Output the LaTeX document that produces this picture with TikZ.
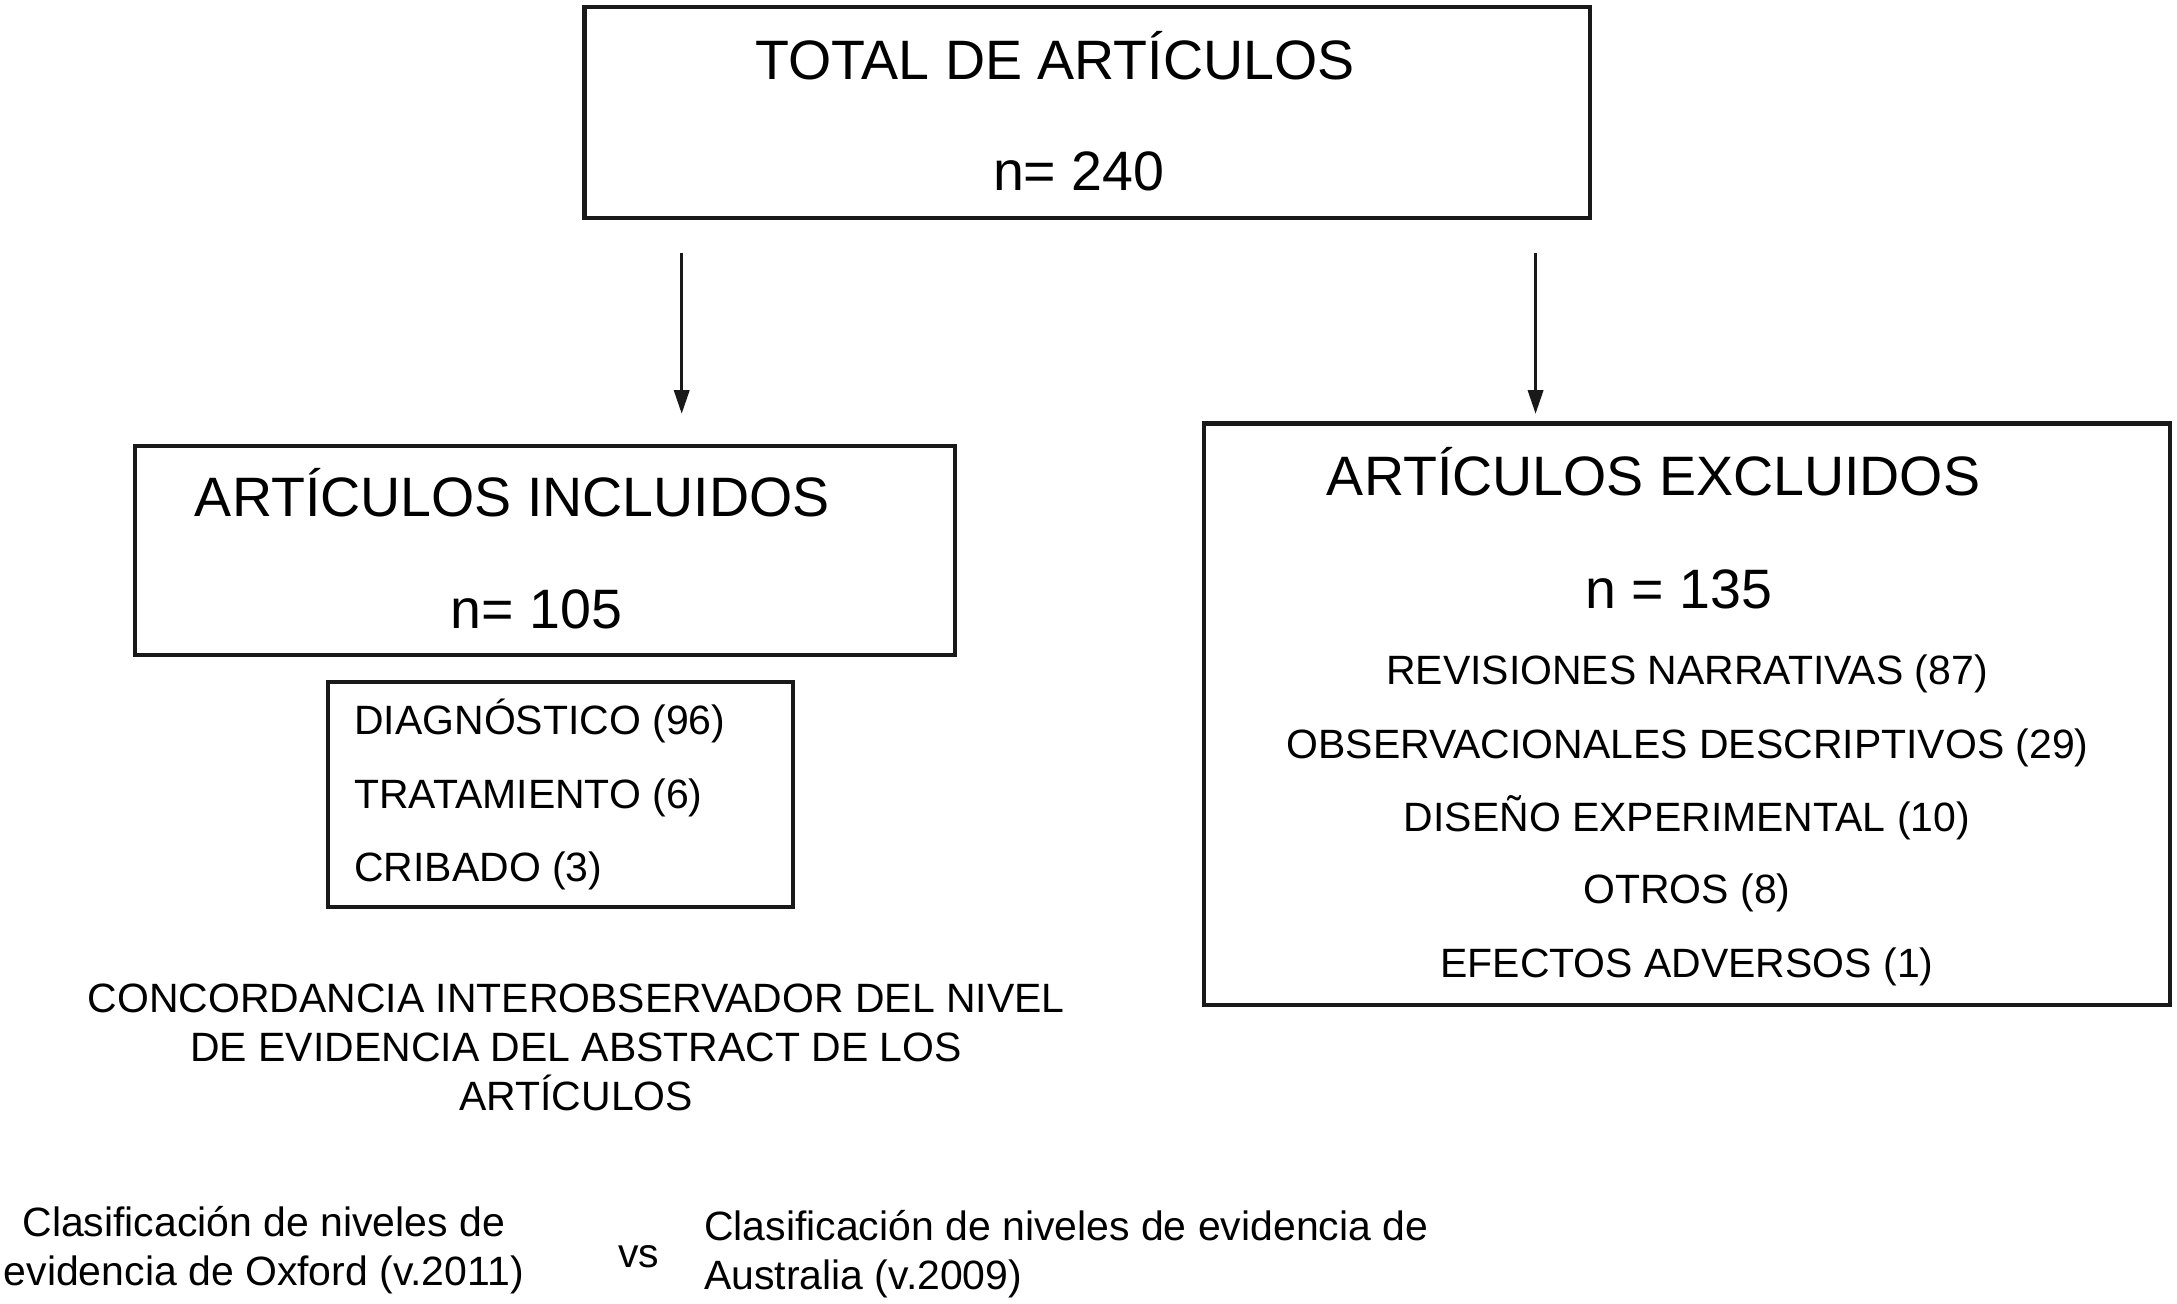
\documentclass[tikz,border=0pt]{standalone}
\usepackage{fontspec}
\setmainfont{Liberation Sans}
\usetikzlibrary{arrows.meta}
\begin{document}
\begin{tikzpicture}[x=1pt,y=-1pt,
  box/.style={draw=black!90, line width=3pt, rectangle, inner sep=0pt},
  big/.style={inner sep=0pt, anchor=base, font=\fontsize{40}{48}\selectfont},
  small/.style={inner sep=0pt, anchor=base, font=\fontsize{29.5}{35.5}\selectfont},
  arr/.style={draw=black!90, line width=2pt, -{Triangle[length=17pt,width=11pt]}}]
\useasboundingbox[fill=white] (0,0) rectangle (1568,939);

% boxes
\node[box, minimum width=724pt, minimum height=152pt] (total) at (783,81) {};
\node[box, minimum width=591pt, minimum height=151pt] (incl) at (392.5,396.5) {};
\node[box, minimum width=335pt, minimum height=162pt] (sub) at (403.5,572) {};
\node[box, minimum width=696pt, minimum height=419pt] (excl) at (1215,514.5) {};

% texts in top box
\node[big] (t1) at (760,57) {TOTAL DE ARTÍCULOS};
\node[big] (t2) at (777,137) {n= 240};

% included
\node[big] (i1) at (369,372) {ARTÍCULOS INCLUIDOS};
\node[big] (i2) at (386.5,453) {n= 105};
\node[small, anchor=base west] (s1) at (255,529) {DIAGNÓSTICO (96)};
\node[small, anchor=base west] (s2) at (255,582) {TRATAMIENTO (6)};
\node[small, anchor=base west] (s3) at (255,635) {CRIBADO (3)};

% excluded
\node[big] (e1) at (1191,357) {ARTÍCULOS EXCLUIDOS};
\node[big] (e2) at (1209,438) {n = 135};
\node[small] (e3) at (1215,493) {REVISIONES NARRATIVAS (87)};
\node[small] (e4) at (1215.5,546) {OBSERVACIONALES DESCRIPTIVOS (29)};
\node[small] (e5) at (1215,599) {DISEÑO EXPERIMENTAL (10)};
\node[small] (e6) at (1215,651) {OTROS (8)};
\node[small] (e7) at (1215,704) {EFECTOS ADVERSOS (1)};

% concordancia (base = last line)
\node[small, align=center, anchor=base] (conc) at (415,800)
  {CONCORDANCIA INTEROBSERVADOR DEL NIVEL\\DE EVIDENCIA DEL ABSTRACT DE LOS\\ARTÍCULOS};

% bottom
\node[small, align=center, anchor=base] (ox) at (190,926)
  {Clasificación de niveles de\\evidencia de Oxford (v.2011)};
\node[small] (vs) at (460,913) {vs};
\node[small, align=left, anchor=base west] (au) at (507,929)
  {Clasificación de niveles de evidencia de\\Australia (v.2009)};

% arrows
\coordinate (a1s) at (491,182);
\coordinate (a1e) at (491,298);
\coordinate (a2s) at (1106,182);
\coordinate (a2e) at (1106,298);
\draw[arr] (a1s) -- (a1e);
\draw[arr] (a2s) -- (a2e);
\end{tikzpicture}
\end{document}
